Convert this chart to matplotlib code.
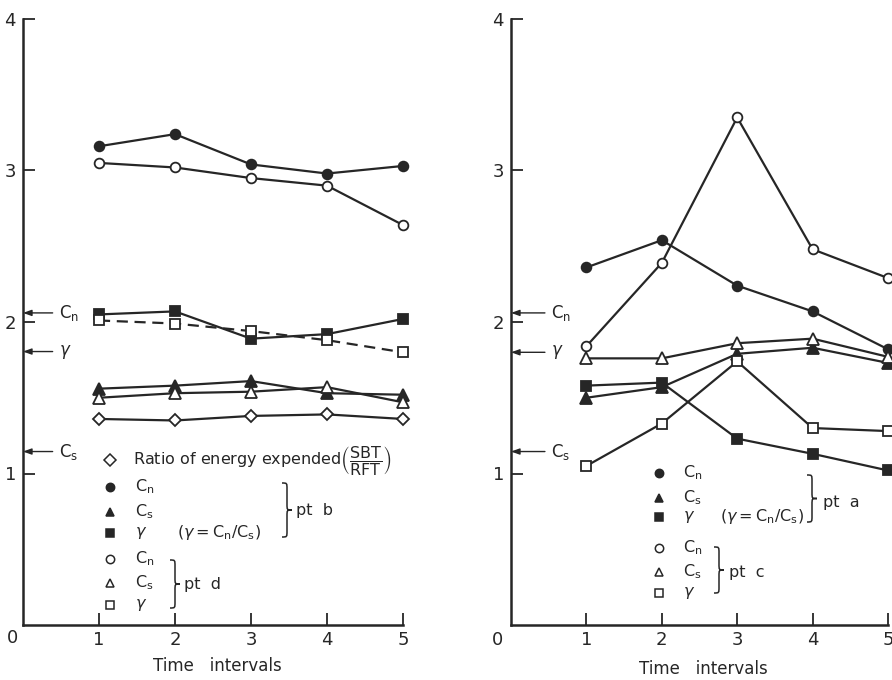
import matplotlib
matplotlib.use('Agg')
import matplotlib.pyplot as plt
from matplotlib.path import Path
from matplotlib.patches import PathPatch

plt.rcParams['font.family'] = ['DejaVu Sans']
plt.rcParams['mathtext.fontset'] = 'dejavusans'

W, H = 892, 680
INK = '#262626'

# time intervals
intervals = [1, 2, 3, 4, 5]

# left panel: pt b (filled) and pt d (open)
left_b_cn = [3.16, 3.24, 3.04, 2.98, 3.03]
left_d_cn = [3.05, 3.02, 2.95, 2.90, 2.64]
left_b_gamma = [2.05, 2.07, 1.89, 1.92, 2.02]
left_d_gamma = [2.01, 1.99, 1.94, 1.88, 1.80]
left_b_cs = [1.56, 1.58, 1.61, 1.53, 1.52]
left_d_cs = [1.50, 1.53, 1.54, 1.57, 1.47]
energy_ratio = [1.36, 1.35, 1.38, 1.39, 1.36]

# right panel: pt a (filled) and pt c (open)
right_a_cn = [2.36, 2.54, 2.24, 2.07, 1.82]
right_c_cn = [1.84, 2.39, 3.35, 2.48, 2.29]
right_c_cs = [1.76, 1.76, 1.86, 1.89, 1.77]
right_a_cs = [1.50, 1.57, 1.79, 1.83, 1.73]
right_a_gamma = [1.58, 1.60, 1.23, 1.13, 1.02]
right_c_gamma = [1.05, 1.33, 1.74, 1.30, 1.28]

# reference levels marked with arrows on the y axis
ref_labels = [r'$\mathregular{C_n}$', r'$\gamma$', r'$\mathregular{C_s}$']
left_refs = [2.06, 1.805, 1.145]
right_refs = [2.06, 1.80, 1.145]

y_ticks = [1, 2, 3, 4]

CN = r'$\mathregular{C_n}$'
CS = r'$\mathregular{C_s}$'
GAM = r'$\gamma$'
RATIO = r'$(\gamma = \mathregular{C_n/C_s})$'


def fx(px):
    return px / W


def fy(py):
    return 1 - py / H


fig = plt.figure(figsize=(W / 100, H / 100), dpi=100)
ax1 = fig.add_axes([fx(23), fy(625), 380 / W, 606 / H])
ax2 = fig.add_axes([fx(511), fy(625), 377 / W, 606 / H])


def style_axes(ax):
    ax.set_xlim(0, 5)
    ax.set_ylim(0, 4)
    for s in ['top', 'right']:
        ax.spines[s].set_visible(False)
    for s in ['left', 'bottom']:
        ax.spines[s].set_linewidth(1.8)
        ax.spines[s].set_color(INK)
    ax.set_xticks(intervals)
    ax.set_yticks(y_ticks)
    ax.tick_params(direction='in', length=8.5, width=1.3, color=INK,
                   labelsize=13, labelcolor=INK)
    ax.tick_params(axis='y', pad=5)
    ax.tick_params(axis='x', pad=4)


def series(ax, y, marker, filled, ls='-', ms=7):
    ax.plot(intervals, y, color=INK, lw=1.6, ls=ls, marker=marker, ms=ms,
            mfc=INK if filled else 'white', mec=INK, mew=1.3,
            clip_on=False, zorder=3 if filled else 4)


def ref_arrows(ax, levels, x_tail, x_text):
    for lab, lvl in zip(ref_labels, levels):
        ax.annotate('', xy=(0, lvl), xytext=(x_tail, lvl),
                    arrowprops=dict(arrowstyle='-|>,head_length=0.5,head_width=0.18',
                                    color=INK, lw=1.0, shrinkA=0, shrinkB=0))
        ax.text(x_text, lvl, lab, fontsize=12, color=INK, va='center', ha='left')


def brace(x0, y_top, y_bot, w=10):
    xm = x0 + w / 2
    ym = (y_top + y_bot) / 2
    r = 6
    pts = [(x0, y_top), (xm, y_top), (xm, y_top), (xm, y_top + r),
           (xm, ym - r),
           (xm, ym), (xm, ym), (x0 + w, ym),
           (xm, ym), (xm, ym), (xm, ym + r),
           (xm, y_bot - r),
           (xm, y_bot), (xm, y_bot), (x0, y_bot)]
    codes = [Path.MOVETO, Path.CURVE4, Path.CURVE4, Path.CURVE4,
             Path.LINETO,
             Path.CURVE4, Path.CURVE4, Path.CURVE4,
             Path.CURVE4, Path.CURVE4, Path.CURVE4,
             Path.LINETO,
             Path.CURVE4, Path.CURVE4, Path.CURVE4]
    path = Path([(fx(a), fy(b)) for a, b in pts], codes)
    fig.add_artist(PathPatch(path, fc='none', ec=INK, lw=1.1,
                             transform=fig.transFigure))


def key_mark(px, py, marker, filled, ms=6):
    fig.add_artist(plt.Line2D([fx(px)], [fy(py)], marker=marker, ms=ms,
                              mfc=INK if filled else 'white', mec=INK, mew=1.1,
                              ls='none', transform=fig.transFigure))


def key_text(px, py, s, size=11.5):
    fig.text(fx(px), fy(py), s, fontsize=size, color=INK, va='center', ha='left')


# ---- left panel ----
style_axes(ax1)
series(ax1, left_b_cn, 'o', True)
series(ax1, left_d_cn, 'o', False)
series(ax1, left_b_gamma, 's', True)
series(ax1, left_d_gamma, 's', False, ls=(0, (5, 3)))
series(ax1, left_b_cs, '^', True, ms=8)
series(ax1, left_d_cs, '^', False, ms=8)
series(ax1, energy_ratio, 'D', False, ms=6.5)
ref_arrows(ax1, left_refs, 0.39, 0.48)

# ---- right panel ----
style_axes(ax2)
series(ax2, right_a_cn, 'o', True)
series(ax2, right_c_cn, 'o', False)
series(ax2, right_c_cs, '^', False, ms=8)
series(ax2, right_a_cs, '^', True, ms=8)
series(ax2, right_a_gamma, 's', True)
series(ax2, right_c_gamma, 's', False)
ref_arrows(ax2, right_refs, 0.45, 0.53)

# origin labels and x axis titles
fig.text(fx(13), fy(638), '0', fontsize=13, color=INK, ha='center', va='center')
fig.text(fx(498), fy(640), '0', fontsize=13, color=INK, ha='center', va='center')
fig.text(fx(217), fy(666), 'Time   intervals', fontsize=12, color=INK,
         ha='center', va='center')
fig.text(fx(703), fy(669), 'Time   intervals', fontsize=12, color=INK,
         ha='center', va='center')

# ---- left key ----
key_mark(110, 460, 'D', False, ms=6)
key_text(133, 460, r'Ratio of energy expended$\left(\dfrac{\mathrm{SBT}}{\mathrm{RFT}}\right)$')
key_mark(110, 487, 'o', True)
key_text(135, 487, CN)
key_mark(110, 512, '^', True)
key_text(135, 512, CS)
key_mark(110, 533, 's', True)
key_text(135, 533, GAM)
key_text(177, 533, RATIO)
brace(282, 483, 537)
key_text(296, 511, 'pt  b')
key_mark(110, 559, 'o', False)
key_text(135, 559, CN)
key_mark(110, 583, '^', False)
key_text(135, 583, CS)
key_mark(110, 605, 's', False)
key_text(135, 605, GAM)
brace(170, 560, 608)
key_text(184, 584, 'pt  d')

# ---- right key ----
key_mark(659, 473, 'o', True)
key_text(683, 473, CN)
key_mark(659, 498, '^', True)
key_text(683, 498, CS)
key_mark(659, 517, 's', True)
key_text(683, 517, GAM)
key_text(720, 517, RATIO)
brace(807, 475, 522)
key_text(823, 502, 'pt  a')
key_mark(659, 548, 'o', False)
key_text(683, 548, CN)
key_mark(659, 572, '^', False)
key_text(683, 572, CS)
key_mark(659, 593, 's', False)
key_text(683, 593, GAM)
brace(714, 547, 593)
key_text(729, 573, 'pt  c')

fig.savefig('out.png', dpi=100)
